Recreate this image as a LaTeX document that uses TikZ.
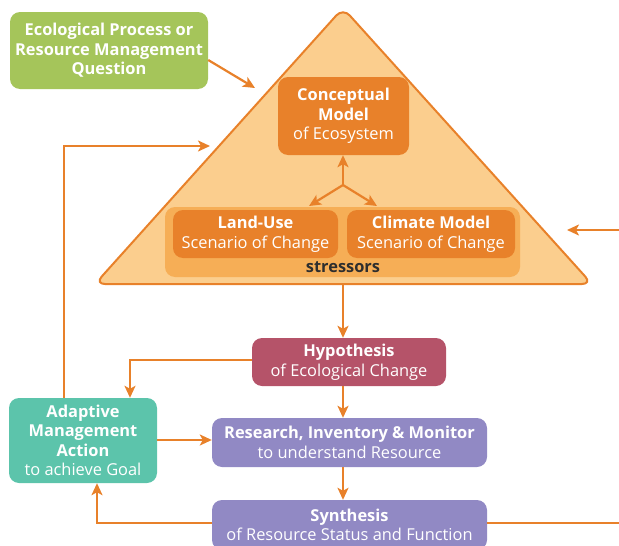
\documentclass[tikz,border=0pt]{standalone}
\usepackage{fontspec}
\setmainfont{Open Sans}
\usetikzlibrary{arrows.meta}

\definecolor{lineorange}{HTML}{E8812A}
\definecolor{triback}{HTML}{FBCE8E}
\definecolor{stressback}{HTML}{F6AE56}
\definecolor{modelorange}{HTML}{E8812A}
\definecolor{questgreen}{HTML}{A5C55A}
\definecolor{hypred}{HTML}{B55369}
\definecolor{studypurple}{HTML}{9189C4}
\definecolor{actteal}{HTML}{5CC4AB}
\definecolor{darktext}{HTML}{2E2E2E}

\tikzset{
  flowbox/.style={rounded corners=10pt, text=white, align=center, inner sep=0pt,
    font=\fontsize{16.4}{19.5}\selectfont},
  flow/.style={->, draw=lineorange, line width=2.2pt},
  link/.style={draw=lineorange, line width=2.2pt},
}

\begin{document}
\begin{tikzpicture}[x=1pt, y=-1pt, >={Stealth[length=12pt, width=11pt, inset=3pt]}]
    \useasboundingbox (0,0) rectangle (619,546);
    % triangle of the model
    \coordinate (apex) at (343,8);
    \coordinate (baseleft) at (95,284);
    \coordinate (baseright) at (592,284);
    \draw[draw=lineorange, fill=triback, line width=2pt, rounded corners=10pt]
        (apex) -- (baseleft) -- (baseright) -- cycle;
    \coordinate (spine) at (343,0);

    % boxes
    \node[flowbox, fill=questgreen, minimum width=198pt, minimum height=77pt] (question) at (109,50.5)
        {\bfseries Ecological Process or\\\bfseries Resource Management\\\bfseries Question};
    \node[flowbox, fill=modelorange, minimum width=131pt, minimum height=78pt] (concept) at (343.5,116)
        {\bfseries Conceptual\\\bfseries Model\\of Ecosystem};
    \node[rounded corners=10pt, fill=stressback, minimum width=355pt, minimum height=70pt] (stress) at (342.5,242) {};
    \node[flowbox, fill=modelorange, minimum width=165pt, minimum height=48pt] (landuse) at (255.5,234)
        {\bfseries Land-Use\\Scenario of Change};
    \node[flowbox, fill=modelorange, minimum width=168pt, minimum height=48pt] (climate) at (431,234)
        {\bfseries Climate Model\\Scenario of Change};
    \node[font=\fontsize{16.4}{19.5}\selectfont\bfseries, text=darktext] (stresslabel) at (343,267) {stressors};
    \node[flowbox, fill=hypred, minimum width=194pt, minimum height=48pt] (hyp) at (349,362)
        {\bfseries Hypothesis\\of Ecological Change};
    \node[flowbox, fill=actteal, minimum width=148pt, minimum height=85pt] (adapt) at (83,440.5)
        {\bfseries Adaptive\\\bfseries Management\\\bfseries Action\\to achieve Goal};
    \node[flowbox, fill=studypurple, minimum width=275pt, minimum height=49pt] (research) at (349.5,442.5)
        {\bfseries Research, Inventory \& Monitor\\to understand Resource};
    \node[flowbox, fill=studypurple, minimum width=275pt, minimum height=50pt] (synth) at (349.5,525)
        {\bfseries Synthesis\\of Resource Status and Function};

    % connectors
    \coordinate (hub) at (343,185);
    \coordinate (tipquest) at (255,88);
    \coordinate (tipback) at (210,146);
    \coordinate (rightin) at (619,230);
    \coordinate (tipright) at (567,230);
    \coordinate (rightout) at (619,523);
    \draw[flow] (hub) -- (concept.south -| hub);
    \draw[flow] (hub) -- (309,206);
    \draw[flow] (hub) -- (377,206);
    \draw[flow] (question.east |- 0,60) -- (tipquest);
    \draw[flow] (rightin) -- (tipright);
    \draw[flow] (spine |- baseleft) -- (hyp.north -| spine);
    \draw[flow] (hyp.west |- 0,360) -| (adapt.north -| 130,0);
    \draw[flow] (hyp.south -| spine) -- (research.north -| spine);
    \draw[flow] (research.south -| spine) -- (synth.north -| spine);
    \draw[flow] (adapt.east |- 0,440) -- (research.west |- 0,440);
    \draw[flow] (adapt.north -| 64,0) |- (tipback);
    \draw[flow] (synth.west |- 0,523) -| (adapt.south -| 97,0);
    \draw[link] (synth.east |- 0,523) -- (rightout);
\end{tikzpicture}
\end{document}
